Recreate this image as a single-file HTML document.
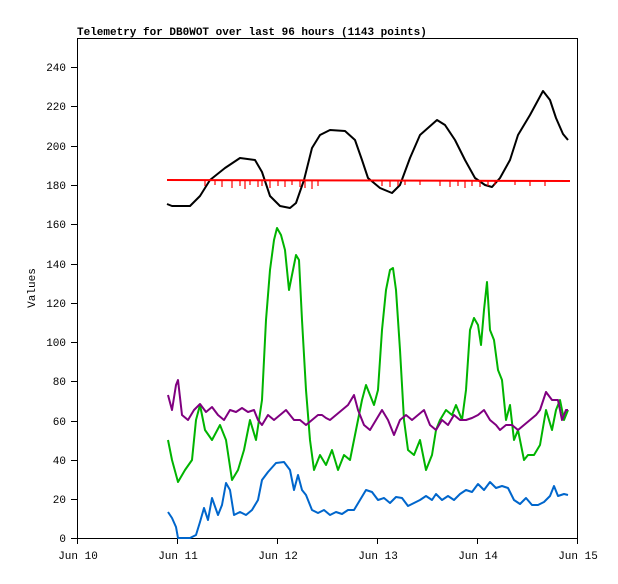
<!DOCTYPE html><html><head><style>body{margin:0;background:#fff}svg text{font-family:"Liberation Mono",monospace;font-size:11px}</style></head><body>
<svg width="618" height="579" xmlns="http://www.w3.org/2000/svg">
<rect width="618" height="579" fill="#fff"/>
<text x="77" y="35" font-weight="bold" font-size="11">Telemetry for DB0WOT over last 96 hours (1143 points)</text>
<rect x="77.5" y="38.5" width="500" height="500" fill="none" stroke="#000"/>
<g stroke="#000">
<line x1="71" x2="77" y1="538.5" y2="538.5"/><line x1="71" x2="77" y1="499.5" y2="499.5"/><line x1="71" x2="77" y1="460.5" y2="460.5"/><line x1="71" x2="77" y1="421.5" y2="421.5"/><line x1="71" x2="77" y1="381.5" y2="381.5"/><line x1="71" x2="77" y1="342.5" y2="342.5"/><line x1="71" x2="77" y1="303.5" y2="303.5"/><line x1="71" x2="77" y1="264.5" y2="264.5"/><line x1="71" x2="77" y1="224.5" y2="224.5"/><line x1="71" x2="77" y1="185.5" y2="185.5"/><line x1="71" x2="77" y1="146.5" y2="146.5"/><line x1="71" x2="77" y1="106.5" y2="106.5"/><line x1="71" x2="77" y1="67.5" y2="67.5"/>
<line x1="77.5" x2="77.5" y1="538" y2="544"/><line x1="177.5" x2="177.5" y1="538" y2="544"/><line x1="277.5" x2="277.5" y1="538" y2="544"/><line x1="377.5" x2="377.5" y1="538" y2="544"/><line x1="477.5" x2="477.5" y1="538" y2="544"/><line x1="577.5" x2="577.5" y1="538" y2="544"/>
</g>
<g text-anchor="end">
<text x="66" y="542">0</text><text x="66" y="503">20</text><text x="66" y="464">40</text><text x="66" y="425">60</text><text x="66" y="385">80</text><text x="66" y="346">100</text><text x="66" y="307">120</text><text x="66" y="268">140</text><text x="66" y="228">160</text><text x="66" y="189">180</text><text x="66" y="150">200</text><text x="66" y="110">220</text><text x="66" y="71">240</text>
</g>
<g text-anchor="middle">
<text x="78" y="559">Jun 10</text><text x="178" y="559">Jun 11</text><text x="278" y="559">Jun 12</text><text x="378" y="559">Jun 13</text><text x="478" y="559">Jun 14</text><text x="578" y="559">Jun 15</text>
</g>
<text x="35" y="288" text-anchor="middle" transform="rotate(-90 35 288)">Values</text>
<g fill="none" stroke-width="2" stroke-linejoin="round">
<polyline stroke="#000" points="167,204 172,206 190,206 200,196 210,180 225,168 240,158 255,160 262,172 270,196 280,206 290,208 296,203 304,180 312,148 320,135 330,130 345,131 355,140 362,160 368,178 380,188 392,193 400,185 410,158 420,135 437,120 445,125 455,140 465,160 475,178 485,185 492,187 500,178 510,160 518,135 530,115 543,91 550,100 556,118 563,134 568,140"/>
<polyline stroke="#f00" points="167,180 570,181"/>
<g stroke="#f00" stroke-width="1.2">
<path d="M205,181v5M215,181v4M222,181v6M232,181v7M240,181v5M245,181v8M250,181v4M258,181v6M262,181v5M270,181v7M278,181v5M285,181v6M292,181v4M300,181v6M305,181v7M312,181v8M318,181v5M382,181v5M390,181v6M398,181v5M405,181v4M420,181v4M440,181v5M450,181v6M458,181v5M465,181v7M472,181v5M480,181v6M488,181v5M495,181v4M515,181v4M530,181v5M545,181v5"/>
</g>
<polyline stroke="#00b400" points="168,440 172,460 178,482 185,470 192,460 196,420 200,405 205,430 212,440 220,425 226,440 232,480 238,470 244,450 250,420 256,440 262,400 266,320 270,270 274,240 277,228 281,235 285,250 289,290 292,275 296,255 299,260 302,320 306,390 310,440 314,470 320,455 326,465 332,450 338,470 344,455 350,460 356,430 362,400 366,385 370,395 374,405 378,390 382,330 386,290 390,270 393,268 396,290 400,350 404,420 408,450 414,455 420,440 426,470 432,455 436,430 440,420 446,410 452,415 456,405 462,420 466,390 470,330 474,318 478,325 481,345 484,310 487,282 490,330 494,340 498,370 502,380 506,420 510,405 514,440 518,430 524,460 528,455 534,455 540,445 546,410 552,430 556,410 560,400 564,420 568,410"/>
<polyline stroke="#800080" points="168,395 172,410 176,385 178,380 182,415 188,420 194,410 200,404 206,412 212,407 218,415 224,420 230,410 236,412 242,408 248,412 254,410 258,420 262,425 268,415 274,420 280,415 286,410 290,415 294,420 300,420 306,425 312,420 318,415 322,415 326,418 330,420 336,415 342,410 348,405 354,395 358,410 364,425 370,430 376,420 382,410 388,420 394,435 400,420 406,415 412,420 418,415 424,410 430,425 436,430 442,420 448,425 454,415 460,420 466,420 472,418 478,415 484,410 490,420 496,425 500,430 506,425 512,425 518,430 524,425 530,420 536,415 540,410 546,392 552,400 558,400 562,420 566,410 568,410"/>
<polyline stroke="#0066cc" points="168,512 172,518 176,527 178,538 190,538 196,535 200,522 204,508 208,520 212,498 218,515 222,505 226,483 230,490 234,515 240,512 246,515 252,510 258,500 262,480 268,472 276,463 284,462 290,470 294,490 298,475 302,490 306,495 312,510 318,513 324,510 330,515 336,512 342,514 348,510 354,510 360,500 366,490 372,492 378,500 384,498 390,503 396,497 402,498 408,506 414,503 420,500 426,496 432,500 436,494 442,500 448,496 454,500 460,494 466,490 472,492 478,484 484,490 490,482 496,488 502,486 508,488 514,500 520,504 526,498 532,505 538,505 544,502 550,496 554,486 558,496 564,494 568,495"/>
</g>
</svg></body></html>
